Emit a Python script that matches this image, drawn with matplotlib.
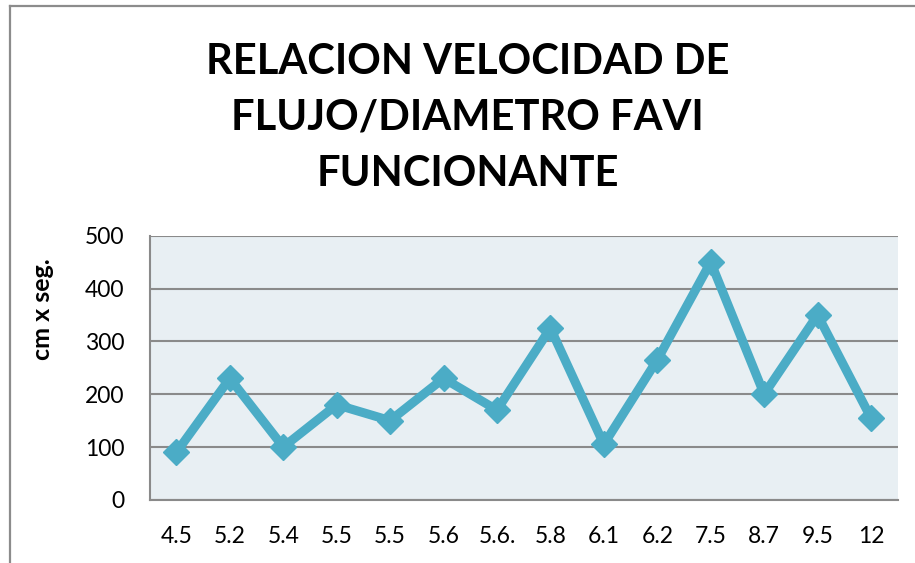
import matplotlib
matplotlib.use('Agg')
import matplotlib.pyplot as plt
from matplotlib.lines import Line2D

plt.rcParams['font.family'] = ['Lato', 'DejaVu Sans']

# Data
categories = ['4.5', '5.2', '5.4', '5.5', '5.5', '5.6', '5.6.', '5.8',
              '6.1', '6.2', '7.5', '8.7', '9.5', '12']
velocidad = [90, 230, 100, 180, 150, 230, 170, 325, 105, 265, 450, 200, 350, 155]
y_ticks = [0, 100, 200, 300, 400, 500]

title = 'RELACION VELOCIDAD DE\nFLUJO/DIAMETRO FAVI\nFUNCIONANTE'
y_label = 'cm x seg.'

line_color = '#4BACC6'
grid_color = '#8A8A8A'

fig = plt.figure(figsize=(9.15, 5.63), dpi=100)
ax = fig.add_axes([0.1636, 0.1122, 0.8175, 0.4691])

x = list(range(len(categories)))
ax.plot(x, velocidad, color=line_color, linewidth=6.5, marker='D',
        markersize=13, markerfacecolor=line_color, markeredgecolor=line_color,
        solid_joinstyle='miter', zorder=5, clip_on=False)

ax.set_xlim(-0.5, len(categories) - 0.5)
ax.set_ylim(0, 500)
ax.set_facecolor('#E8EFF3')
ax.set_yticks(y_ticks)
ax.set_xticks(x)
ax.set_xticklabels(categories)
ax.tick_params(axis='both', length=0, labelsize=16.5, colors='black')
ax.tick_params(axis='x', pad=19)
ax.tick_params(axis='y', pad=18)
ax.yaxis.grid(True, color=grid_color, linewidth=1.5)
ax.set_axisbelow(True)

for s in ['top', 'right']:
    ax.spines[s].set_visible(False)
for s in ['left', 'bottom']:
    ax.spines[s].set_color(grid_color)
    ax.spines[s].set_linewidth(1.5)

fig.text(42 / 915, 1 - 309 / 563, y_label, rotation=90, ha='center',
         va='center', fontsize=18, fontweight='bold')

fig.text(0.511, 1 - 118 / 563, title, ha='center', va='center', fontsize=30,
         fontweight='bold', linespacing=1.58)

# outer chart frame (only top and left edges visible)
fig.add_artist(Line2D([10 / 915, 1], [1 - 6 / 563, 1 - 6 / 563],
                      color='#8C8C8C', linewidth=1.6))
fig.add_artist(Line2D([10 / 915, 10 / 915], [0, 1 - 6 / 563],
                      color='#8C8C8C', linewidth=1.6))

fig.savefig('out.png', dpi=100)
